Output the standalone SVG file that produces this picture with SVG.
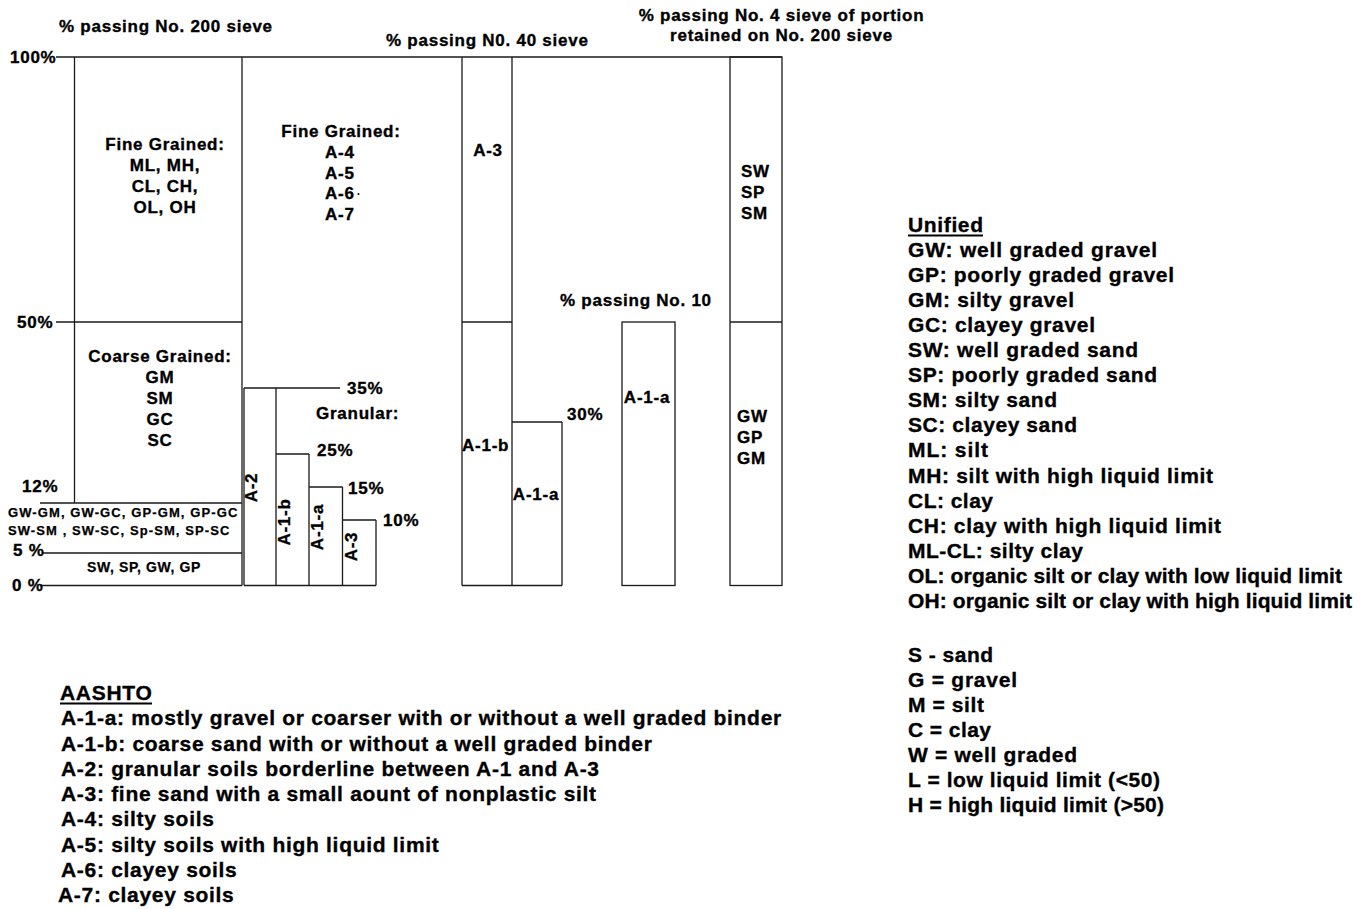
<svg xmlns="http://www.w3.org/2000/svg" width="1369" height="909" viewBox="0 0 1369 909">
<style>
text{font-family:"Liberation Sans",Arial,sans-serif;font-weight:bold;fill:#000;stroke:#000;stroke-width:0.35px}
.t{font-size:17px;letter-spacing:0.75px}
.c{text-anchor:middle}
.s{font-size:13px;letter-spacing:0.7px;stroke-width:0.25px}
.m{font-size:14px;letter-spacing:0.6px;stroke-width:0.25px}
.lg{font-size:21px}
.la{font-size:21px;letter-spacing:0.7px}
.ln{stroke:#1a1a1a;stroke-width:1.3;fill:none}
.ul{stroke:#000;stroke-width:2}
</style>
<rect width="1369" height="909" fill="#fff"/>

<g id="titles">
<text class="t" x="59" y="31.5">% passing No. 200 sieve</text>
<text class="t" x="386" y="46">% passing N0. 40 sieve</text>
<text class="t c" x="781.5" y="20.7">% passing No. 4 sieve of portion</text>
<text class="t c" x="781.5" y="40.7">retained on No. 200 sieve</text>
<text class="t" x="560" y="306">% passing No. 10</text>
</g>

<g id="connectors">
<line class="ln" x1="56" y1="57" x2="782" y2="57"/>
<line class="ln" x1="56" y1="322" x2="242" y2="322"/>
<line class="ln" x1="40" y1="503" x2="242" y2="503"/>
<line class="ln" x1="42" y1="553" x2="242" y2="553"/>
<line class="ln" x1="40" y1="585.5" x2="242" y2="585.5"/>
<line class="ln" x1="74.5" y1="57" x2="74.5" y2="503"/>
<line class="ln" x1="242" y1="57" x2="242" y2="585.5"/>
</g>

<g id="axis-labels">
<text class="t" x="10" y="63">100%</text>
<text class="t" x="17" y="328">50%</text>
<text class="t" x="22" y="492">12%</text>
<text class="t" x="13" y="556">5 %</text>
<text class="t" x="12" y="590.5">0 %</text>
</g>

<g id="node-unified-fine">
<text class="t c" x="165" y="149.5">Fine Grained:</text>
<text class="t c" x="165" y="170.5">ML, MH,</text>
<text class="t c" x="165" y="191.5">CL, CH,</text>
<text class="t c" x="165" y="212.5">OL, OH</text>
</g>

<g id="node-unified-coarse">
<text class="t c" x="160" y="362">Coarse Grained:</text>
<text class="t c" x="160" y="383">GM</text>
<text class="t c" x="160" y="403.5">SM</text>
<text class="t c" x="160" y="424.5">GC</text>
<text class="t c" x="160" y="445.5">SC</text>
</g>

<g id="node-unified-dual">
<text class="s" x="8" y="516.5" textLength="230" lengthAdjust="spacing">GW-GM, GW-GC, GP-GM, GP-GC</text>
<text class="s" x="8" y="535" textLength="222" lengthAdjust="spacing">SW-SM , SW-SC, Sp-SM, SP-SC</text>
</g>

<g id="node-unified-clean">
<text class="m c" x="144" y="571.5">SW, SP, GW, GP</text>
</g>

<g id="node-aashto-fine">
<text class="t c" x="341" y="137">Fine Grained:</text>
<text class="t" x="325" y="158">A-4</text>
<text class="t" x="325" y="178.5">A-5</text>
<text class="t" x="325" y="199">A-6</text>
<circle cx="358.5" cy="194" r="1" fill="#000"/>
<text class="t" x="325" y="219.5">A-7</text>
</g>

<g id="node-aashto-granular">
<line class="ln" x1="244" y1="388" x2="340" y2="388"/>
<line class="ln" x1="244" y1="388" x2="244" y2="585.5"/>
<line class="ln" x1="276" y1="388" x2="276" y2="585.5"/>
<line class="ln" x1="276" y1="454" x2="309" y2="454"/>
<line class="ln" x1="309" y1="454" x2="309" y2="585.5"/>
<line class="ln" x1="309" y1="487" x2="342.5" y2="487"/>
<line class="ln" x1="342.5" y1="487" x2="342.5" y2="585.5"/>
<line class="ln" x1="342.5" y1="520" x2="376" y2="520"/>
<line class="ln" x1="376" y1="520" x2="376" y2="585.5"/>
<line class="ln" x1="244" y1="585.5" x2="376" y2="585.5"/>
<text class="t" x="347" y="394">35%</text>
<text class="t" x="316" y="418.5">Granular:</text>
<text class="t" x="317" y="455.5">25%</text>
<text class="t" x="348" y="494">15%</text>
<text class="t" x="383" y="526">10%</text>
<text class="t c" transform="translate(257,487.5) rotate(-90)">A-2</text>
<text class="t c" transform="translate(289.5,522) rotate(-90)">A-1-b</text>
<text class="t c" transform="translate(322.5,527) rotate(-90)">A-1-a</text>
<text class="t c" transform="translate(356.5,546.5) rotate(-90)">A-3</text>
</g>

<g id="node-no40">
<line class="ln" x1="462" y1="57" x2="462" y2="585.5"/>
<line class="ln" x1="512" y1="57" x2="512" y2="585.5"/>
<line class="ln" x1="462" y1="322" x2="512" y2="322"/>
<line class="ln" x1="512" y1="422" x2="562" y2="422"/>
<line class="ln" x1="562" y1="422" x2="562" y2="585.5"/>
<line class="ln" x1="462" y1="585.5" x2="562" y2="585.5"/>
<text class="t c" x="488" y="156">A-3</text>
<text class="t" x="462" y="451">A-1-b</text>
<text class="t c" x="536" y="500">A-1-a</text>
<text class="t" x="567" y="420">30%</text>
</g>

<g id="node-no10">
<rect class="ln" x="622" y="322" width="53" height="263.5"/>
<text class="t c" x="647" y="403">A-1-a</text>
</g>

<g id="node-no4">
<rect class="ln" x="730" y="57" width="52" height="528.5"/>
<line class="ln" x1="730" y1="322" x2="782" y2="322"/>
<text class="t" x="741" y="177">SW</text>
<text class="t" x="741" y="198">SP</text>
<text class="t" x="741" y="219">SM</text>
<text class="t" x="737" y="422">GW</text>
<text class="t" x="737" y="443">GP</text>
<text class="t" x="737" y="464">GM</text>
</g>

<g id="legend-unified">
<text class="lg" x="908" y="231.5" textLength="75" lengthAdjust="spacing">Unified</text>
<line class="ul" x1="908" y1="235.5" x2="983" y2="235.5"/>
<text class="lg" x="908" y="256.6" textLength="249" lengthAdjust="spacing">GW: well graded gravel</text>
<text class="lg" x="908" y="281.7" textLength="266" lengthAdjust="spacing">GP: poorly graded gravel</text>
<text class="lg" x="908" y="306.8" textLength="166" lengthAdjust="spacing">GM: silty gravel</text>
<text class="lg" x="908" y="331.9" textLength="187" lengthAdjust="spacing">GC: clayey gravel</text>
<text class="lg" x="908" y="357" textLength="230" lengthAdjust="spacing">SW: well graded sand</text>
<text class="lg" x="908" y="382.1" textLength="249" lengthAdjust="spacing">SP: poorly graded sand</text>
<text class="lg" x="908" y="407.2" textLength="149" lengthAdjust="spacing">SM: silty sand</text>
<text class="lg" x="908" y="432.3" textLength="169" lengthAdjust="spacing">SC: clayey sand</text>
<text class="lg" x="908" y="457.4" textLength="80" lengthAdjust="spacing">ML: silt</text>
<text class="lg" x="908" y="482.5" textLength="305" lengthAdjust="spacing">MH: silt with high liquid limit</text>
<text class="lg" x="908" y="507.6" textLength="85" lengthAdjust="spacing">CL: clay</text>
<text class="lg" x="908" y="532.7" textLength="313" lengthAdjust="spacing">CH: clay with high liquid limit</text>
<text class="lg" x="908" y="557.8" textLength="175" lengthAdjust="spacing">ML-CL: silty clay</text>
<text class="lg" x="908" y="582.9" textLength="434" lengthAdjust="spacing">OL: organic silt or clay with low liquid limit</text>
<text class="lg" x="908" y="608" textLength="444" lengthAdjust="spacing">OH: organic silt or clay with high liquid limit</text>
</g>

<g id="legend-symbols">
<text class="lg" x="908" y="661.5" textLength="85" lengthAdjust="spacing">S - sand</text>
<text class="lg" x="908" y="686.6" textLength="109" lengthAdjust="spacing">G = gravel</text>
<text class="lg" x="908" y="711.7" textLength="76" lengthAdjust="spacing">M = silt</text>
<text class="lg" x="908" y="736.8" textLength="83" lengthAdjust="spacing">C = clay</text>
<text class="lg" x="908" y="761.9" textLength="169" lengthAdjust="spacing">W = well graded</text>
<text class="lg" x="908" y="787" textLength="252" lengthAdjust="spacing">L = low liquid limit (&lt;50)</text>
<text class="lg" x="908" y="812.1" textLength="256" lengthAdjust="spacing">H = high liquid limit (&gt;50)</text>
</g>

<g id="legend-aashto">
<text class="la" x="60" y="700">AASHTO</text>
<line class="ul" x1="60" y1="703.5" x2="152" y2="703.5"/>
<text class="la" x="61" y="725.3">A-1-a: mostly gravel or coarser with or without a well graded binder</text>
<text class="la" x="61" y="750.5">A-1-b: coarse sand with or without a well graded binder</text>
<text class="la" x="61" y="775.8">A-2: granular soils borderline between A-1 and A-3</text>
<text class="la" x="61" y="801">A-3: fine sand with a small aount of nonplastic silt</text>
<text class="la" x="61" y="826.3">A-4: silty soils</text>
<text class="la" x="61" y="851.5">A-5: silty soils with high liquid limit</text>
<text class="la" x="61" y="876.8">A-6: clayey soils</text>
<text class="la" x="58" y="902">A-7: clayey soils</text>
</g>
</svg>
